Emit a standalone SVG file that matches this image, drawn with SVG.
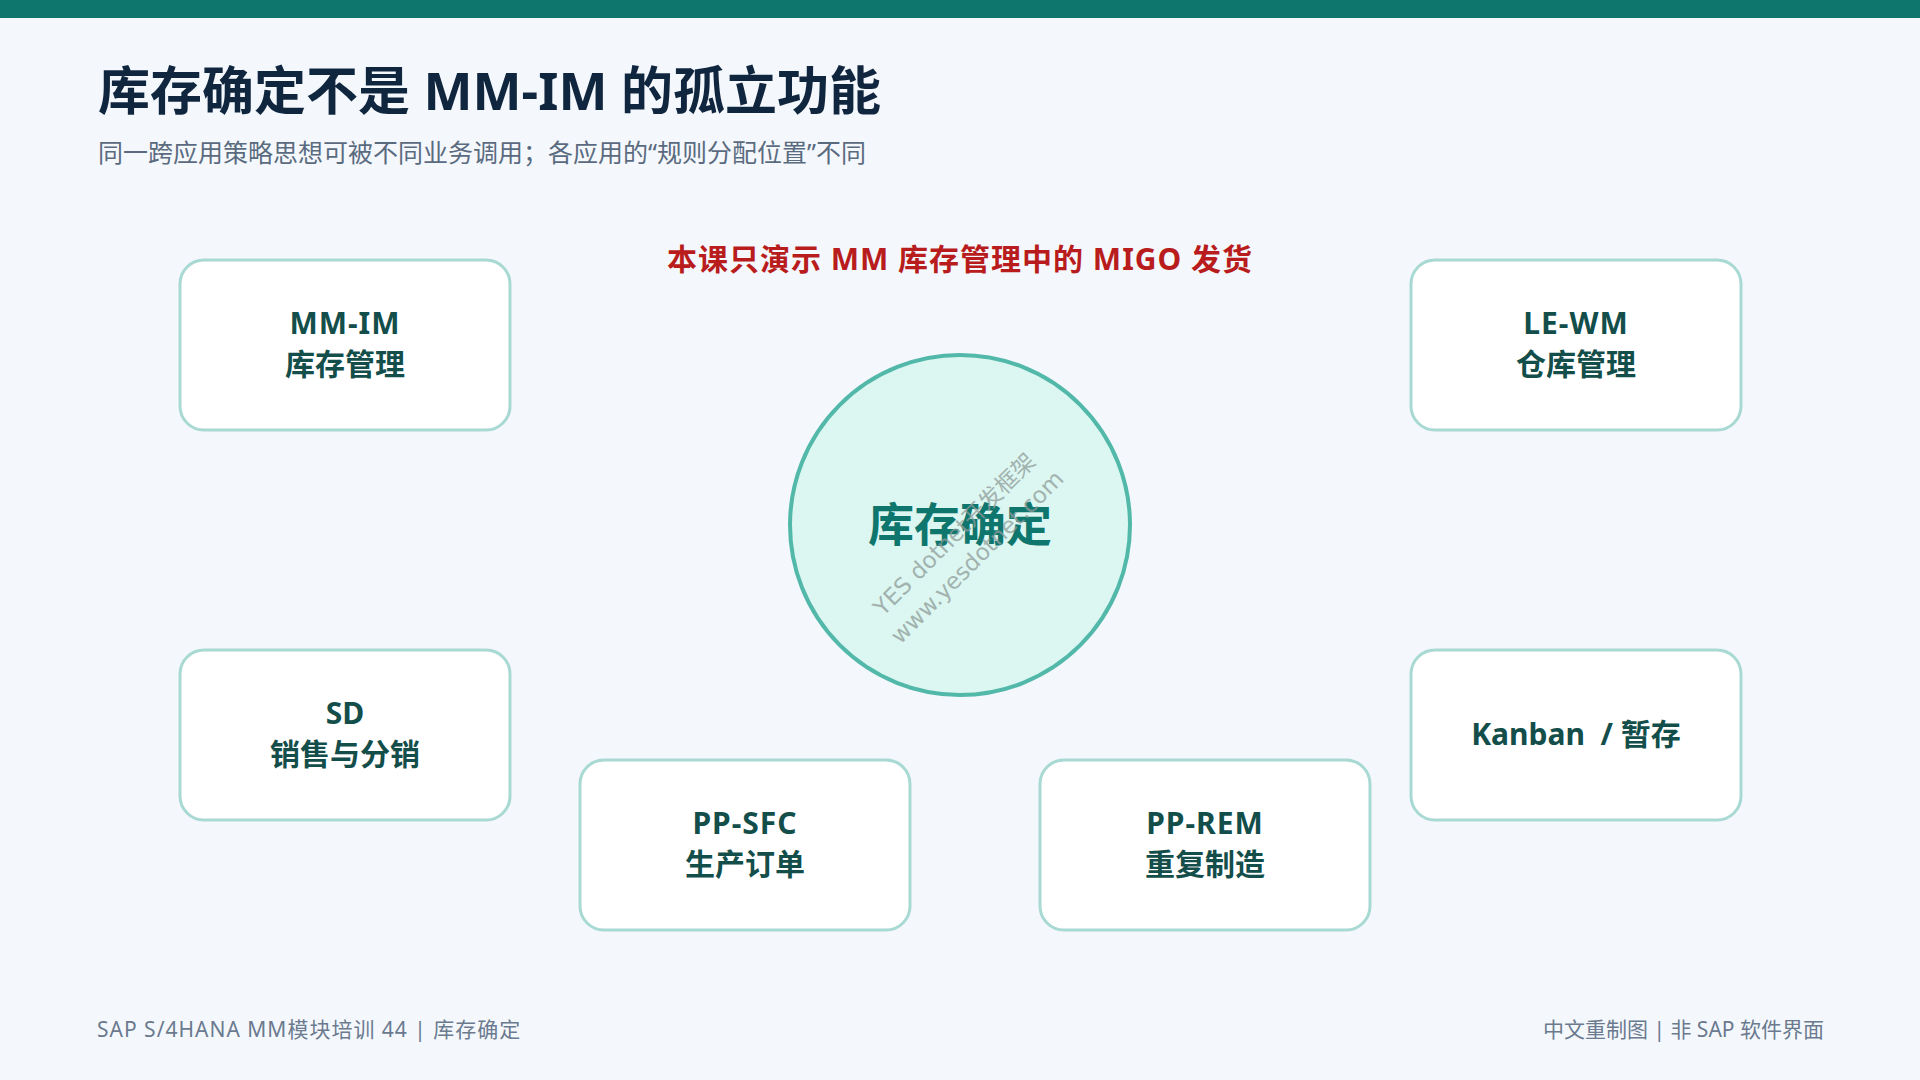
<svg xmlns="http://www.w3.org/2000/svg" width="1920" height="1080" viewBox="0 0 1920 1080">
<style>
.f{font-family:"Noto Sans","Noto Sans CJK SC",sans-serif}
.box{fill:#ffffff;stroke:#a9d9d3;stroke-width:3}
.bt{font-family:"Noto Sans","Noto Sans CJK SC",sans-serif;font-size:30px;font-weight:700;fill:#134e4a;text-anchor:middle}
.ft{font-family:"Noto Sans","Noto Sans CJK SC",sans-serif;font-size:21px;fill:#6b7a8f}
.wm{font-family:"DejaVu Sans","Noto Sans CJK SC",sans-serif;font-size:23px;fill:#8f9c9a;opacity:0.75;text-anchor:middle}
</style>
<rect x="0" y="0" width="1920" height="1080" fill="#f4f8fc"/>
<rect x="0" y="0" width="1920" height="18" fill="#0f766e"/>
<text class="f" x="98" y="110" font-size="52" font-weight="700" fill="#10263f">库存确定不是 MM-IM 的孤立功能</text>
<text class="f" x="98" y="162" font-size="25" fill="#5b6b7f">同一跨应用策略思想可被不同业务调用；各应用的“规则分配位置”不同</text>
<text class="f" x="960" y="270" font-size="30" font-weight="700" fill="#b91c1c" text-anchor="middle" letter-spacing="1">本课只演示 MM 库存管理中的 MIGO 发货</text>
<g id="connectors"></g>
<g id="center">
<circle cx="960" cy="525" r="170" fill="#dcf7f1" stroke="#52b8aa" stroke-width="4"/>
<text class="f" x="960" y="541" font-size="46" font-weight="700" fill="#0f766e" text-anchor="middle">库存确定</text>
</g>
<g id="node-mmim">
<rect class="box" x="180" y="260" width="330" height="170" rx="24"/>
<text class="bt" x="345" y="334" letter-spacing="1">MM-IM</text>
<text class="bt" x="345" y="375">库存管理</text>
</g>
<g id="node-lewm">
<rect class="box" x="1411" y="260" width="330" height="170" rx="24"/>
<text class="bt" x="1576" y="334" letter-spacing="1">LE-WM</text>
<text class="bt" x="1576" y="375">仓库管理</text>
</g>
<g id="node-sd">
<rect class="box" x="180" y="650" width="330" height="170" rx="24"/>
<text class="bt" x="345" y="724">SD</text>
<text class="bt" x="345" y="765">销售与分销</text>
</g>
<g id="node-kanban">
<rect class="box" x="1411" y="650" width="330" height="170" rx="24"/>
<text class="bt" x="1576" y="745" xml:space="preserve">Kanban  / 暂存</text>
</g>
<g id="node-ppsfc">
<rect class="box" x="580" y="760" width="330" height="170" rx="24"/>
<text class="bt" x="745" y="834" letter-spacing="1">PP-SFC</text>
<text class="bt" x="745" y="875">生产订单</text>
</g>
<g id="node-pprem">
<rect class="box" x="1040" y="760" width="330" height="170" rx="24"/>
<text class="bt" x="1205" y="834" letter-spacing="1">PP-REM</text>
<text class="bt" x="1205" y="875">重复制造</text>
</g>
<g transform="translate(960,540) rotate(-45)">
<text class="wm" x="0" y="0">YES dotnet开发框架</text>
<text class="wm" x="0" y="32">www.yesdotnet.com</text>
</g>
<text class="ft" x="97" y="1037" letter-spacing="1">SAP S/4HANA MM模块培训 44 | 库存确定</text>
<text class="ft" x="1824" y="1037" text-anchor="end">中文重制图 | 非 SAP 软件界面</text>
</svg>
